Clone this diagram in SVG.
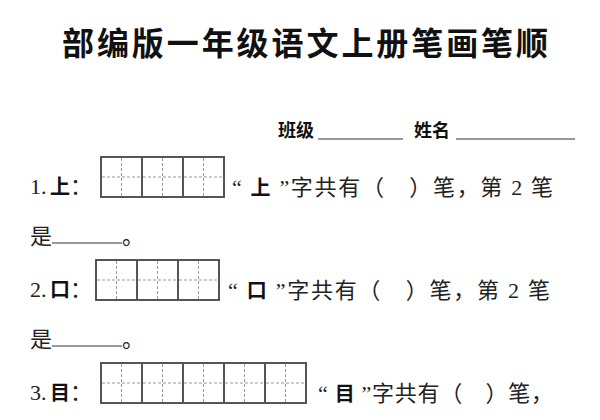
<svg xmlns="http://www.w3.org/2000/svg" width="600" height="420" viewBox="0 0 600 420">
<style>
.t{font-family:"Liberation Serif","Noto Sans CJK SC",serif;font-size:22px;fill:#222}
.b{font-family:"Noto Sans CJK SC",sans-serif;font-size:20px;font-weight:bold;fill:#111}
.h{font-family:"Noto Sans CJK SC",sans-serif;font-size:18px;font-weight:bold;fill:#111}
.title{font-family:"Noto Sans CJK SC",sans-serif;font-size:32px;font-weight:bold;fill:#111}
.cell{fill:#fff;stroke:#555;stroke-width:2}
.g{stroke:#999;stroke-width:1;stroke-dasharray:3,2}
.u{stroke:#333;stroke-width:1}
</style>
<defs>
<g id="cell"><rect class="cell" x="0" y="0" width="41" height="40"/><line class="g" x1="20.5" y1="1" x2="20.5" y2="39"/><line class="g" x1="1" y1="20" x2="40" y2="20"/></g>
</defs>
<rect width="600" height="420" fill="#fff"/>
<text class="title" x="62" y="55" textLength="486" lengthAdjust="spacing">部编版一年级语文上册笔画笔顺</text>
<g id="header">
<text class="h" x="278" y="137">班级</text><line class="u" x1="318" y1="139" x2="403" y2="139"/>
<text class="h" x="414" y="137">姓名</text><line class="u" x1="456" y1="139" x2="575" y2="139"/>
</g>
<g id="q1">
<text class="t" x="30" y="194">1.</text><text class="b" x="50" y="194">上</text><text class="t" x="70" y="194">：</text>
<use href="#cell" x="101" y="157"/><use href="#cell" x="142" y="157"/><use href="#cell" x="183" y="157"/>
<text class="t" x="232" y="195" textLength="321" lengthAdjust="spacing">“ <tspan class="b">上</tspan> ”字共有（　）笔，第 2 笔</text>
<text class="t" x="30" y="244">是</text><line class="u" x1="52" y1="243" x2="122" y2="243"/><text class="t" x="122" y="244">。</text>
</g>
<g id="q2">
<text class="t" x="30" y="297">2.</text><text class="b" x="50" y="297">口</text><text class="t" x="70" y="297">：</text>
<use href="#cell" x="96" y="260"/><use href="#cell" x="137" y="260"/><use href="#cell" x="178" y="260"/>
<text class="t" x="228" y="298" textLength="322" lengthAdjust="spacing">“ <tspan class="b">口</tspan> ”字共有（　）笔，第 2 笔</text>
<text class="t" x="30" y="347">是</text><line class="u" x1="52" y1="346" x2="122" y2="346"/><text class="t" x="122" y="347">。</text>
</g>
<g id="q3">
<text class="t" x="30" y="400">3.</text><text class="b" x="50" y="400">目</text><text class="t" x="70" y="400">：</text>
<use href="#cell" x="101" y="363"/><use href="#cell" x="142" y="363"/><use href="#cell" x="183" y="363"/><use href="#cell" x="224" y="363"/><use href="#cell" x="265" y="363"/>
<text class="t" x="318" y="401" textLength="235" lengthAdjust="spacing">“ <tspan class="b">目</tspan> ”字共有（　）笔，</text>
</g>
</svg>
